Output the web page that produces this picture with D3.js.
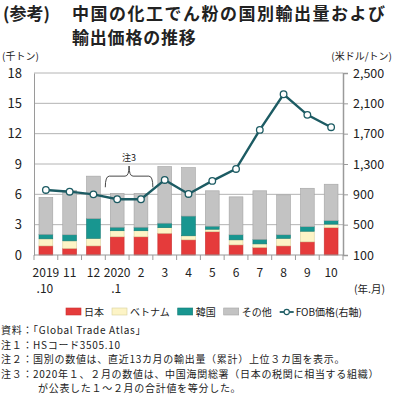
<!DOCTYPE html>
<html>
<head>
<meta charset="utf-8">
<script src="https://cdn.jsdelivr.net/npm/d3@7"></script>
<style>
  body { margin: 0; background: #fff; }
  text { font-family: "Noto Sans CJK JP", "Noto Sans", sans-serif; fill: #222; }
</style>
</head>
<body>
<div id="chart"></div>
<script>
// categories (year.month)
var months = ["2019.10", "11", "12", "2020.1", "2", "3", "4", "5", "6", "7", "8", "9", "10"];
var labelTop = ["2019", "11", "12", "2020", "2", "3", "4", "5", "6", "7", "8", "9", "10"];
var labelBottom = [".10", "", "", ".1", "", "", "", "", "", "", "", "", ""];

// export volume by destination (thousand tons)
var japan   = [0.9, 0.65, 0.9, 1.8, 1.8, 2.15, 1.5, 2.3, 1.0, 0.75, 0.9, 1.3, 2.7];
var vietnam = [0.7, 0.75, 0.75, 0.6, 0.6, 0.55, 0.4, 0.25, 0.5, 0.35, 0.75, 1.05, 0.35];
var korea   = [0.45, 0.6, 1.95, 0.35, 0.35, 0.45, 1.95, 0.3, 0.5, 0.45, 0.35, 0.45, 0.35];
var others  = [3.65, 4.4, 4.2, 3.35, 3.35, 5.6, 4.8, 3.5, 3.75, 4.8, 3.95, 3.8, 3.6];

// FOB price (USD/ton, right axis)
var fob = [958, 935, 900, 835, 835, 1090, 905, 1077, 1235, 1750, 2220, 1948, 1785];

var leftTicks = [0, 3, 6, 9, 12, 15, 18];
var rightTicks = [100, 500, 900, 1300, 1700, 2100, 2500];

var seriesKeys = ["japan", "vietnam", "korea", "others"];
var seriesNames = ["日本", "ベトナム", "韓国", "その他"];
var colors = ["#e53b3b", "#fdf4c6", "#189690", "#c3c3c3"];
var strokes = ["#c93030", "#d8cf9c", "#137a75", "#a3a3a3"];

var width = 394, height = 395;
var margin = { top: 73, right: 51, bottom: 140, left: 34 };
var w = width - margin.left - margin.right,
    h = height - margin.top - margin.bottom;

var svg = d3.select("#chart").append("svg")
    .attr("width", width)
    .attr("height", height);

// title
svg.append("text").attr("x", 3).attr("y", 20)
    .style("font-size", "17px").style("font-weight", "bold")
    .text("(参考)");
svg.append("text").attr("x", 72).attr("y", 20)
    .style("font-size", "17px").style("font-weight", "bold").style("letter-spacing", "1.5px")
    .text("中国の化工でん粉の国別輸出量および");
svg.append("text").attr("x", 72).attr("y", 44)
    .style("font-size", "17px").style("font-weight", "bold").style("letter-spacing", "0.8px")
    .text("輸出価格の推移");

// unit labels
svg.append("text").attr("x", 2).attr("y", 60)
    .style("font-size", "10px").text("(千トン)");
svg.append("text").attr("x", 392).attr("y", 60).attr("text-anchor", "end")
    .style("font-size", "10px").text("(米ドル/トン)");

var g = svg.append("g")
    .attr("transform", "translate(" + margin.left + "," + margin.top + ")");

var x = d3.scaleBand()
    .domain(months)
    .range([0, w])
    .paddingInner(0.42)
    .paddingOuter(0.21);

var yL = d3.scaleLinear().domain([0, 18]).range([h, 0]);
var yR = d3.scaleLinear().domain([100, 2500]).range([h, 0]);

// gridlines
g.selectAll(".grid").data(leftTicks.slice(1)).enter().append("line")
    .attr("x1", 0).attr("x2", w)
    .attr("y1", function(d) { return yL(d); })
    .attr("y2", function(d) { return yL(d); })
    .attr("stroke", "#b4b4b4").attr("stroke-width", 1);

// left axis
var leftAxis = g.append("g")
    .call(d3.axisLeft(yL).tickValues(leftTicks).tickSize(0).tickPadding(12));
leftAxis.select(".domain").attr("stroke", "#9a9a9a");
leftAxis.selectAll("text").style("font-size", "13px").style("fill", "#222");

// right axis
var rightAxis = g.append("g")
    .attr("transform", "translate(" + w + ",0)")
    .call(d3.axisRight(yR).tickValues(rightTicks).tickSize(5).tickPadding(5)
        .tickFormat(d3.format(",")));
rightAxis.select(".domain").attr("stroke", "#9a9a9a").attr("stroke-width", 1.5);
rightAxis.selectAll(".tick line").attr("stroke", "#9a9a9a");
rightAxis.selectAll("text").style("font-size", "12.5px").style("fill", "#222");

// stacked bars
var table = months.map(function(m, i) {
    return { month: m, japan: japan[i], vietnam: vietnam[i], korea: korea[i], others: others[i] };
});
var stack = d3.stack().keys(seriesKeys)(table);

g.selectAll(".layer").data(stack).enter().append("g")
    .attr("fill", function(d, i) { return colors[i]; })
    .attr("stroke", function(d, i) { return strokes[i]; })
    .attr("stroke-width", 0.6)
    .selectAll("rect").data(function(d) { return d; }).enter().append("rect")
    .attr("x", function(d) { return x(d.data.month); })
    .attr("width", x.bandwidth())
    .attr("y", function(d) { return yL(d[1]); })
    .attr("height", function(d) { return yL(d[0]) - yL(d[1]); });

// bottom axis: ticks between categories
var step = x.step();
g.append("line").attr("x1", 0).attr("x2", w).attr("y1", h).attr("y2", h)
    .attr("stroke", "#9a9a9a").attr("stroke-width", 1.2);
g.selectAll(".xtick").data(d3.range(months.length + 1)).enter().append("line")
    .attr("x1", function(i) { return i * step; })
    .attr("x2", function(i) { return i * step; })
    .attr("y1", h).attr("y2", h + 5)
    .attr("stroke", "#9a9a9a");

g.selectAll(".xl1").data(months).enter().append("text")
    .attr("x", function(d) { return x(d) + x.bandwidth() / 2; })
    .attr("y", h + 22)
    .attr("text-anchor", "middle")
    .style("font-size", "12px")
    .text(function(d, i) { return labelTop[i]; });
g.selectAll(".xl2").data(months).enter().append("text")
    .attr("x", function(d) { return x(d) + x.bandwidth() / 2 - 1; })
    .attr("y", h + 38)
    .attr("text-anchor", "middle")
    .style("font-size", "12px")
    .text(function(d, i) { return labelBottom[i]; });

svg.append("text").attr("x", 385).attr("y", 293).attr("text-anchor", "end")
    .style("font-size", "10.5px").text("(年.月)");

// bracket for note 3 over 2020.1 and 2
var bx0 = x("2020.1") - 5, bx1 = x("2") + x.bandwidth() + 5, bm = (bx0 + bx1) / 2;
var yb = yL(6.7), yt = yL(7.8), ytip = yL(8.8);
g.append("path")
    .attr("d", "M" + bx0 + "," + yb + " Q" + bx0 + "," + yt + " " + (bx0 + 4) + "," + yt +
        " L" + (bm - 4) + "," + yt + " Q" + bm + "," + yt + " " + bm + "," + ytip +
        " Q" + bm + "," + yt + " " + (bm + 4) + "," + yt +
        " L" + (bx1 - 4) + "," + yt + " Q" + bx1 + "," + yt + " " + bx1 + "," + yb)
    .attr("fill", "none").attr("stroke", "#333").attr("stroke-width", 0.9);
g.append("text").attr("x", bm).attr("y", ytip - 5).attr("text-anchor", "middle")
    .style("font-size", "9px").text("注3");

// FOB price line
var line = d3.line()
    .x(function(d, i) { return x(months[i]) + x.bandwidth() / 2; })
    .y(function(d) { return yR(d); });

g.append("path").datum(fob)
    .attr("d", line)
    .attr("fill", "none")
    .attr("stroke", "#1c5b63")
    .attr("stroke-width", 2.4);

g.selectAll(".pt").data(fob).enter().append("circle")
    .attr("cx", function(d, i) { return x(months[i]) + x.bandwidth() / 2; })
    .attr("cy", function(d) { return yR(d); })
    .attr("r", 3.3)
    .attr("fill", "#fff")
    .attr("stroke", "#1c5b63")
    .attr("stroke-width", 1.3);

// legend
var legend = svg.append("g").attr("transform", "translate(0,312)");
var lx = 66;
seriesNames.forEach(function(name, i) {
    legend.append("rect").attr("x", lx).attr("y", -4).attr("width", 15).attr("height", 7)
        .attr("fill", colors[i]).attr("stroke", strokes[i]).attr("stroke-width", 0.6);
    var t = legend.append("text").attr("x", lx + 18).attr("y", 4)
        .style("font-size", "10px").text(name);
    lx += 18 + t.node().getComputedTextLength() + 8;
});
legend.append("line").attr("x1", lx).attr("x2", lx + 14).attr("y1", 0).attr("y2", 0)
    .attr("stroke", "#1c5b63").attr("stroke-width", 1.8);
legend.append("circle").attr("cx", lx + 7).attr("cy", 0).attr("r", 2.6)
    .attr("fill", "#fff").attr("stroke", "#1c5b63").attr("stroke-width", 1.1);
legend.append("text").attr("x", lx + 16).attr("y", 4)
    .style("font-size", "10px").text("FOB価格(右軸)");

// notes
var notes = [
    "資料：「Global Trade Atlas」",
    "注１：HSコード3505.10",
    "注２：国別の数値は、直近13カ月の輸出量（累計）上位３カ国を表示。",
    "注３：2020年１、２月の数値は、中国海関総署（日本の税関に相当する組織）"
];
notes.forEach(function(n, i) {
    svg.append("text").attr("x", 1).attr("y", 334 + i * 14.5)
        .style("font-size", "10px").style("letter-spacing", "0.7px").text(n);
});
svg.append("text").attr("x", 38).attr("y", 334 + 4 * 14.5)
    .style("font-size", "10px").style("letter-spacing", "0.7px")
    .text("が公表した１～２月の合計値を等分した。");
</script>
</body>
</html>
